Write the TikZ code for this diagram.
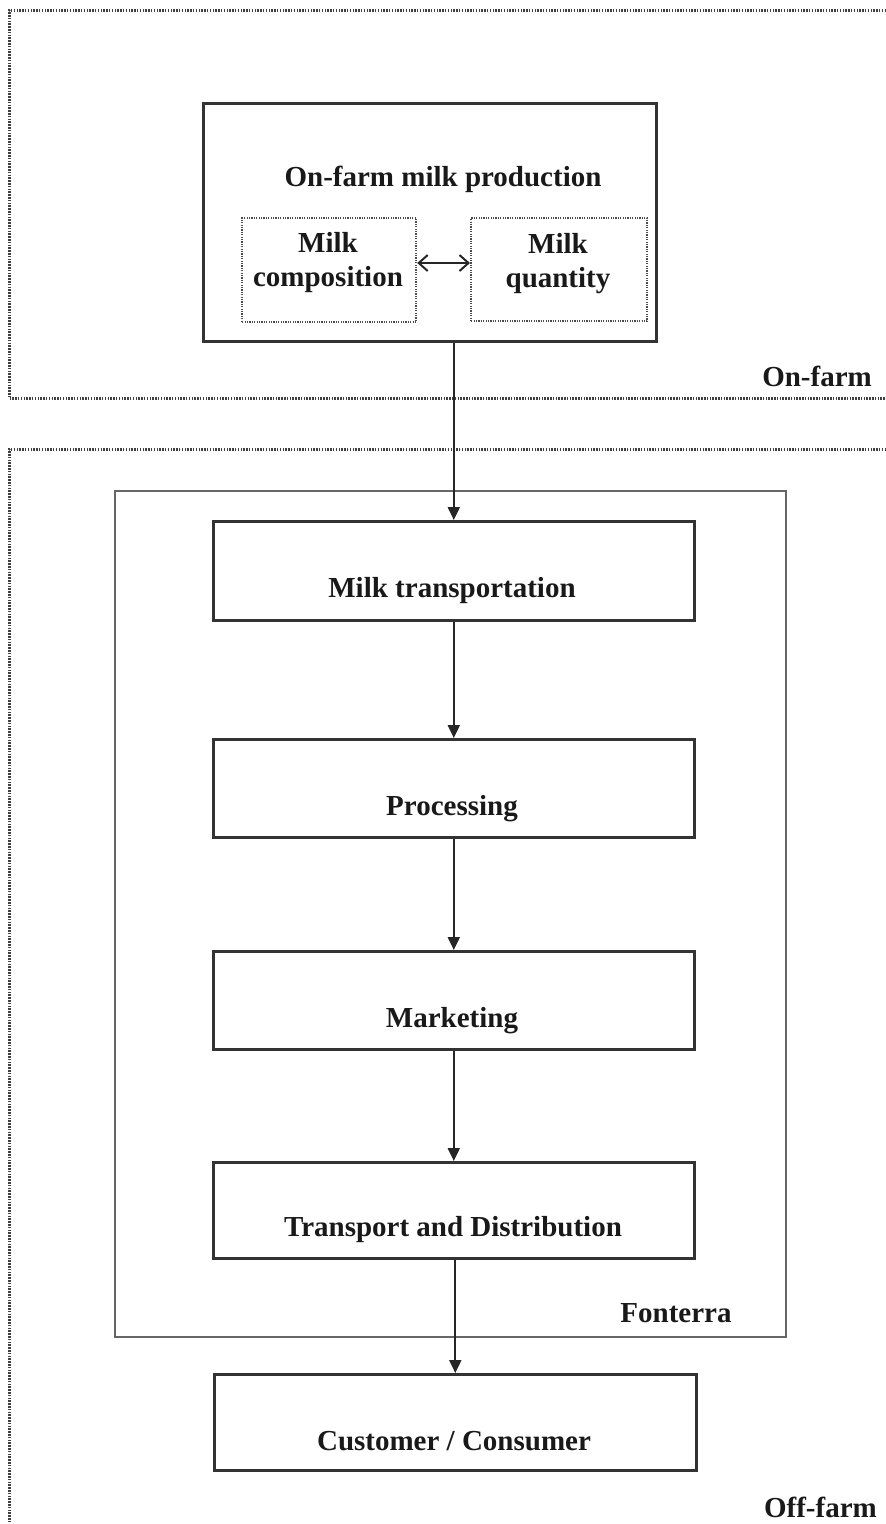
\documentclass[tikz,border=0pt]{standalone}
\usepackage{fontspec}
\setmainfont{Liberation Serif}
\usetikzlibrary{arrows.meta}
\tikzset{
  region/.style={line width=3pt, dash pattern=on 1.5pt off 1.3pt, draw=black!75},
  stagebox/.style={draw=black!80, line width=2.6pt, rectangle, inner sep=0pt, anchor=north west},
  subbox/.style={draw=black!70, line width=2.2pt, dash pattern=on 1.2pt off 1.2pt, rectangle, inner sep=0pt, anchor=north west},
  orgbox/.style={draw=black!60, line width=1.8pt, rectangle, inner sep=0pt, anchor=north west},
  lbl/.style={font=\fontsize{29}{34}\selectfont\bfseries, text=black!90, align=center, inner sep=0pt},
  flow/.style={line width=2pt, draw=black!85, -{Triangle[length=13pt,width=12pt]}},
  dflow/.style={line width=2pt, draw=black!85, {Straight Barb[length=9pt,width=16pt]}-{Straight Barb[length=9pt,width=16pt]}}
}
\begin{document}
\begin{tikzpicture}[x=1pt,y=-1pt]
\useasboundingbox (0,0) rectangle (886,1524);
% regions
\coordinate (r1a) at (886,10);
\coordinate (r1b) at (9,10);
\coordinate (r1c) at (9,398);
\coordinate (r1d) at (886,398);
\draw[region] (r1a) -- (r1b) -- (r1c) -- (r1d);
\coordinate (r2a) at (886,449);
\coordinate (r2b) at (9,449);
\coordinate (r2c) at (9,1524);
\draw[region] (r2a) -- (r2b) -- (r2c);
\node[lbl, anchor=base east] (onfarmlbl) at (872,386) {On-farm};
\node[lbl, anchor=base east] (offfarmlbl) at (877,1517) {Off-farm};
% on-farm box
\node[stagebox, minimum width=453pt, minimum height=238pt] (farm) at (202,102) {};
\node[lbl, anchor=base] (farmlbl) at (443,186) {On-farm milk production};
\node[subbox, minimum width=174pt, minimum height=104pt] (comp) at (241,217) {};
\node[lbl, anchor=base] (complbl) at (328,286) {Milk\\composition};
\node[subbox, minimum width=176pt, minimum height=103pt] (qty) at (470,217) {};
\node[lbl, anchor=base] (qtylbl) at (558,287) {Milk\\quantity};
\draw[dflow] (comp.east |- 0,263) -- (qty.west |- 0,263);
% Fonterra
\node[orgbox, minimum width=671pt, minimum height=846pt] (fonterra) at (114,490) {};
\node[lbl, anchor=base] (fontlbl) at (676,1322) {Fonterra};
% stages
\node[stagebox, minimum width=481pt, minimum height=99pt] (mt) at (212,520) {};
\node[lbl, anchor=base] (mtl) at (452,597) {Milk transportation};
\node[stagebox, minimum width=481pt, minimum height=98pt] (proc) at (212,738) {};
\node[lbl, anchor=base] (procl) at (452,815) {Processing};
\node[stagebox, minimum width=481pt, minimum height=98pt] (mkt) at (212,950) {};
\node[lbl, anchor=base] (mktl) at (452,1027) {Marketing};
\node[stagebox, minimum width=481pt, minimum height=96pt] (td) at (212,1161) {};
\node[lbl, anchor=base] (tdl) at (453,1236) {Transport and Distribution};
\node[stagebox, minimum width=482pt, minimum height=96pt] (cc) at (213,1373) {};
\node[lbl, anchor=base] (ccl) at (454,1450) {Customer / Consumer};
% connectors
\draw[flow] (farm.south -| mt.north) -- (mt.north);
\draw[flow] (mt.south) -- (proc.north);
\draw[flow] (proc.south) -- (mkt.north);
\draw[flow] (mkt.south) -- (td.north);
\draw[flow] (td.south -| cc.north) -- (cc.north);
\end{tikzpicture}
\end{document}
